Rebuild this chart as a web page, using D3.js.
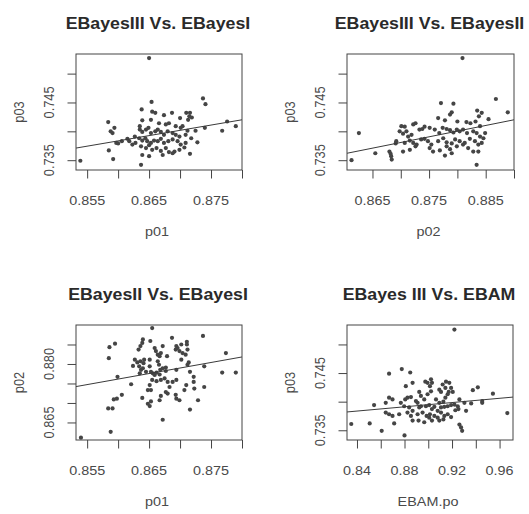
<!DOCTYPE html>
<html>
<head>
<meta charset="utf-8">
<script src="https://cdnjs.cloudflare.com/ajax/libs/d3/7.8.5/d3.min.js"></script>
<style>
    body { margin: 0; background: #fff; }
    svg { display: block; }
    text { font-family: "Liberation Sans", Arial, sans-serif; }
</style>
</head>
<body>
<svg id="chart"></svg>
<script>
// values, one [x, y] pair per gene
var iiiVsI = [[0.8650,0.7527],[0.8539,0.7349],[0.8637,0.7342],[0.8584,0.7416],[0.8585,0.7367],[0.8592,0.7352],[0.8591,0.7397],[0.8594,0.7406],[0.8597,0.7380],[0.8600,0.7379],[0.8606,0.7383],[0.8588,0.7400],[0.8618,0.7383],[0.8623,0.7377],[0.8628,0.7380],[0.8654,0.7451],[0.8638,0.7438],[0.8655,0.7434],[0.8660,0.7432],[0.8674,0.7428],[0.8687,0.7432],[0.8700,0.7423],[0.8710,0.7432],[0.8716,0.7432],[0.8715,0.7426],[0.8713,0.7420],[0.8719,0.7424],[0.8737,0.7457],[0.8741,0.7447],[0.8768,0.7401],[0.8776,0.7417],[0.8790,0.7409],[0.8740,0.7406],[0.8728,0.7381],[0.8716,0.7361],[0.8639,0.7419],[0.8653,0.7420],[0.8666,0.7414],[0.8677,0.7412],[0.8682,0.7414],[0.8693,0.7409],[0.8701,0.7406],[0.8704,0.7409],[0.8712,0.7401],[0.8725,0.7401],[0.8635,0.7403],[0.8639,0.7399],[0.8645,0.7403],[0.8649,0.7406],[0.8653,0.7397],[0.8660,0.7400],[0.8664,0.7403],[0.8669,0.7399],[0.8674,0.7394],[0.8680,0.7400],[0.8688,0.7397],[0.8693,0.7394],[0.8699,0.7391],[0.8709,0.7394],[0.8718,0.7388],[0.8634,0.7388],[0.8639,0.7384],[0.8644,0.7388],[0.8647,0.7383],[0.8653,0.7380],[0.8658,0.7384],[0.8664,0.7383],[0.8669,0.7387],[0.8674,0.7380],[0.8681,0.7383],[0.8688,0.7386],[0.8696,0.7383],[0.8701,0.7377],[0.8709,0.7380],[0.8637,0.7374],[0.8645,0.7371],[0.8650,0.7376],[0.8655,0.7368],[0.8662,0.7371],[0.8669,0.7366],[0.8677,0.7371],[0.8682,0.7364],[0.8691,0.7365],[0.8699,0.7368],[0.8707,0.7372],[0.8639,0.7359],[0.8650,0.7357],[0.8672,0.7359],[0.8688,0.7362],[0.8627,0.7391],[0.8615,0.7387],[0.8635,0.7409]];

var iiiVsII = [[0.8771,0.7449],[0.8793,0.7448],[0.8868,0.7456],[0.8889,0.7433],[0.8835,0.7436],[0.8838,0.7426],[0.8843,0.7432],[0.8855,0.7421],[0.8766,0.7423],[0.8778,0.7419],[0.8787,0.7429],[0.8790,0.7433],[0.8800,0.7417],[0.8816,0.7416],[0.8823,0.7414],[0.8832,0.7417],[0.8840,0.7409],[0.8701,0.7409],[0.8707,0.7408],[0.8710,0.7400],[0.8722,0.7412],[0.8726,0.7414],[0.8733,0.7403],[0.8738,0.7404],[0.8742,0.7408],[0.8698,0.7400],[0.8704,0.7396],[0.8713,0.7391],[0.8719,0.7394],[0.8751,0.7406],[0.8760,0.7403],[0.8768,0.7397],[0.8774,0.7406],[0.8781,0.7404],[0.8787,0.7402],[0.8793,0.7398],[0.8799,0.7403],[0.8804,0.7400],[0.8810,0.7403],[0.8817,0.7397],[0.8828,0.7400],[0.8834,0.7397],[0.8840,0.7391],[0.8846,0.7388],[0.8692,0.7383],[0.8707,0.7380],[0.8716,0.7384],[0.8722,0.7380],[0.8728,0.7377],[0.8736,0.7386],[0.8742,0.7387],[0.8748,0.7383],[0.8754,0.7377],[0.8766,0.7383],[0.8775,0.7388],[0.8781,0.7381],[0.8790,0.7379],[0.8796,0.7386],[0.8804,0.7383],[0.8813,0.7380],[0.8822,0.7387],[0.8831,0.7383],[0.8837,0.7377],[0.8843,0.7380],[0.8849,0.7397],[0.8704,0.7365],[0.8716,0.7368],[0.8726,0.7374],[0.8751,0.7371],[0.8757,0.7365],[0.8769,0.7367],[0.8781,0.7374],[0.8787,0.7369],[0.8799,0.7374],[0.8810,0.7377],[0.8819,0.7371],[0.8828,0.7365],[0.8680,0.7365],[0.8683,0.7357],[0.8684,0.7351],[0.8778,0.7358],[0.8790,0.7362],[0.8837,0.7365],[0.8834,0.7342],[0.8809,0.7527],[0.8613,0.7350],[0.8626,0.7397],[0.8655,0.7362],[0.8691,0.7379],[0.8682,0.7361]];

var iiVsI = [[0.8540,0.8611],[0.8588,0.8626],[0.8584,0.8686],[0.8591,0.8686],[0.8585,0.8815],[0.8586,0.8843],[0.8595,0.8852],[0.8599,0.8767],[0.8593,0.8709],[0.8598,0.8711],[0.8606,0.8721],[0.8621,0.8748],[0.8624,0.8795],[0.8627,0.8811],[0.8631,0.8804],[0.8636,0.8807],[0.8634,0.8794],[0.8637,0.8785],[0.8635,0.8776],[0.8640,0.8789],[0.8645,0.8780],[0.8642,0.8811],[0.8641,0.8802],[0.8633,0.8837],[0.8636,0.8846],[0.8639,0.8854],[0.8640,0.8863],[0.8652,0.8859],[0.8655,0.8892],[0.8651,0.8811],[0.8651,0.8794],[0.8653,0.8780],[0.8656,0.8776],[0.8659,0.8772],[0.8662,0.8778],[0.8667,0.8773],[0.8668,0.8785],[0.8672,0.8789],[0.8677,0.8791],[0.8677,0.8782],[0.8659,0.8841],[0.8661,0.8833],[0.8664,0.8824],[0.8667,0.8820],[0.8672,0.8846],[0.8669,0.8828],[0.8664,0.8807],[0.8666,0.8798],[0.8679,0.8820],[0.8687,0.8867],[0.8694,0.8846],[0.8693,0.8837],[0.8696,0.8841],[0.8699,0.8833],[0.8702,0.8850],[0.8704,0.8828],[0.8711,0.8857],[0.8711,0.8850],[0.8712,0.8837],[0.8709,0.8824],[0.8694,0.8785],[0.8702,0.8811],[0.8712,0.8798],[0.8714,0.8804],[0.8716,0.8780],[0.8722,0.8767],[0.8722,0.8754],[0.8723,0.8737],[0.8710,0.8746],[0.8707,0.8733],[0.8655,0.8759],[0.8648,0.8733],[0.8653,0.8733],[0.8651,0.8746],[0.8662,0.8756],[0.8669,0.8759],[0.8675,0.8763],[0.8680,0.8754],[0.8683,0.8741],[0.8688,0.8754],[0.8694,0.8759],[0.8639,0.8713],[0.8648,0.8698],[0.8651,0.8692],[0.8653,0.8704],[0.8667,0.8707],[0.8669,0.8718],[0.8677,0.8728],[0.8680,0.8724],[0.8693,0.8721],[0.8694,0.8711],[0.8699,0.8707],[0.8672,0.8657],[0.8716,0.8683],[0.8729,0.8707],[0.8737,0.8872],[0.8739,0.8794],[0.8739,0.8741],[0.8774,0.8828],[0.8768,0.8778],[0.8790,0.8778]];

var iiiVsEbam = [[0.9220,0.7526],[0.8352,0.7361],[0.8507,0.7362],[0.8608,0.7349],[0.8800,0.7341],[0.8713,0.7362],[0.8670,0.7449],[0.8777,0.7457],[0.8848,0.7451],[0.8811,0.7427],[0.8868,0.7433],[0.8544,0.7394],[0.8642,0.7398],[0.8670,0.7407],[0.8699,0.7404],[0.8642,0.7381],[0.8670,0.7378],[0.8699,0.7375],[0.8755,0.7378],[0.8769,0.7398],[0.8797,0.7392],[0.8806,0.7404],[0.8825,0.7407],[0.8854,0.7408],[0.8839,0.7390],[0.8868,0.7384],[0.8825,0.7381],[0.8854,0.7375],[0.8868,0.7367],[0.8910,0.7378],[0.8924,0.7390],[0.8938,0.7392],[0.8910,0.7398],[0.8896,0.7401],[0.8924,0.7417],[0.8938,0.7410],[0.8966,0.7404],[0.8994,0.7413],[0.9023,0.7418],[0.8994,0.7433],[0.8975,0.7435],[0.9023,0.7439],[0.9031,0.7433],[0.9014,0.7427],[0.9065,0.7404],[0.9093,0.7398],[0.9127,0.7400],[0.9144,0.7407],[0.9163,0.7413],[0.9172,0.7417],[0.9144,0.7424],[0.9121,0.7430],[0.9093,0.7421],[0.9107,0.7417],[0.9149,0.7435],[0.9177,0.7433],[0.9192,0.7424],[0.9206,0.7417],[0.8980,0.7392],[0.9008,0.7394],[0.9031,0.7387],[0.9051,0.7391],[0.9079,0.7384],[0.9107,0.7390],[0.9135,0.7391],[0.9163,0.7392],[0.9192,0.7394],[0.9220,0.7395],[0.8952,0.7381],[0.8986,0.7375],[0.9014,0.7378],[0.9051,0.7375],[0.9079,0.7372],[0.9107,0.7381],[0.9135,0.7375],[0.9163,0.7378],[0.9192,0.7373],[0.9228,0.7385],[0.9248,0.7392],[0.9262,0.7404],[0.9304,0.7398],[0.9361,0.7397],[0.9375,0.7420],[0.9417,0.7425],[0.9454,0.7401],[0.9454,0.7398],[0.9544,0.7414],[0.9665,0.7380],[0.8918,0.7367],[0.8966,0.7364],[0.9008,0.7372],[0.9031,0.7367],[0.9093,0.7367],[0.9127,0.7369],[0.9262,0.7360],[0.9276,0.7355],[0.9285,0.7349],[0.9254,0.7387],[0.9318,0.7384]];

// fitted lines, [[x0, y0], [x1, y1]] at the edges of each plot
var fitIIIvsI = [[0.8532, 0.7371], [0.8800, 0.7420]];
var fitIIIvsII = [[0.8605, 0.7362], [0.8900, 0.7420]];
var fitIIvsI = [[0.8532, 0.8742], [0.8800, 0.8818]];
var fitIIIvsEbam = [[0.8316, 0.7382], [0.9713, 0.7408]];

var titles = ["EBayesIII Vs. EBayesI", "EBayesIII Vs. EBayesII", "EBayesII Vs. EBayesI", "EBayes III Vs. EBAM"];
var xNames = ["p01", "p02", "p01", "EBAM.po"];
var yNames = ["p03", "p03", "p02", "p03"];

// axis limits
var p01Lim = [0.8532, 0.8800];
var p02Lim = [0.8605, 0.8900];
var p03Lim = [0.7333, 0.7534];
var ebamLim = [0.8316, 0.9713];

// ticks and their labels ("" = tick with no label)
var p01Ticks = [0.855, 0.860, 0.865, 0.870, 0.875, 0.880];
var p01Labels = ["0.855", "", "0.865", "", "0.875", ""];
var p02xTicks = [0.865, 0.870, 0.875, 0.880, 0.885, 0.890];
var p02xLabels = ["0.865", "", "0.875", "", "0.885", ""];
var p02yTicks = [0.865, 0.870, 0.875, 0.880, 0.885];
var p02yLabels = ["0.865", "", "", "0.880", ""];
var p03Ticks = [0.735, 0.740, 0.745, 0.750];
var p03Labels = ["0.735", "", "0.745", ""];
var ebamTicks = [0.84, 0.86, 0.88, 0.90, 0.92, 0.94, 0.96];
var ebamLabels = ["0.84", "", "0.88", "", "0.92", "", "0.96"];

var width = 529, height = 514;
var stretch = 1.125;   // the picture was squashed a bit, text comes out wide

var panels = [
    {data: iiiVsI, fit: fitIIIvsI, xDom: p01Lim, yDom: p03Lim, xt: p01Ticks, xl: p01Labels, yt: p03Ticks, yl: p03Labels, box: [76, 242, 54, 170]},
    {data: iiiVsII, fit: fitIIIvsII, xDom: p02Lim, yDom: p03Lim, xt: p02xTicks, xl: p02xLabels, yt: p03Ticks, yl: p03Labels, box: [347, 514, 54, 170]},
    {data: iiVsI, fit: fitIIvsI, xDom: p01Lim, yDom: p02Lim, xt: p01Ticks, xl: p01Labels, yt: p02yTicks, yl: p02yLabels, box: [76, 242, 325, 440]},
    {data: iiiVsEbam, fit: fitIIIvsEbam, xDom: ebamLim, yDom: p03Lim, xt: ebamTicks, xl: ebamLabels, yt: p03Ticks, yl: p03Labels, box: [347, 513, 325, 440]}
];

var svg = d3.select("#chart")
    .attr("width", width)
    .attr("height", height);

svg.append("rect")
    .attr("width", width)
    .attr("height", height)
    .attr("fill", "#fff");

function addText(g, x, y, str, size, weight, color, vertical) {
    let tf = "translate(" + x + "," + y + ") scale(" + stretch + ",1)";
    if (vertical) tf += " rotate(-90)";
    return g.append("text")
        .attr("transform", tf)
        .attr("text-anchor", "middle")
        .style("font-size", size + "px")
        .style("font-weight", weight)
        .style("fill", color)
        .text(str);
}

panels.forEach((p, i) => {
    let [x0, x1, y0, y1] = p.box;
    let cx = (x0 + x1) / 2;

    let x = d3.scaleLinear().domain(p.xDom).range([x0, x1]);
    let y = d3.scaleLinear().domain(p.yDom).range([y1, y0]);

    let g = svg.append("g").attr("class", "panel");

    // axes, R style: outward ticks, labels only where they fit
    let xAxis = d3.axisBottom(x)
        .tickValues(p.xt)
        .tickSize(8.5)
        .tickFormat(d => "");
    g.append("g")
        .attr("class", "x axis")
        .attr("transform", "translate(0," + y1 + ")")
        .call(xAxis)
        .call(a => a.select(".domain").remove())
        .selectAll("line").attr("stroke", "#444");

    let yAxis = d3.axisLeft(y)
        .tickValues(p.yt)
        .tickSize(8.5)
        .tickFormat(d => "");
    g.append("g")
        .attr("class", "y axis")
        .attr("transform", "translate(" + x0 + ",0)")
        .call(yAxis)
        .call(a => a.select(".domain").remove())
        .selectAll("line").attr("stroke", "#444");

    p.xt.forEach((t, k) => {
        if (p.xl[k]) addText(g, x(t), y1 + 35, p.xl[k], 12.8, "normal", "#4a4a4a", false);
    });
    p.yt.forEach((t, k) => {
        if (p.yl[k]) addText(g, x0 - 22, y(t), p.yl[k], 12.8, "normal", "#4a4a4a", true);
    });

    // points
    g.selectAll("circle")
        .data(p.data)
        .enter().append("circle")
        .attr("cx", d => x(d[0]))
        .attr("cy", d => y(d[1]))
        .attr("r", 2.1)
        .attr("fill", "#454545");

    // fitted line
    g.append("line")
        .attr("x1", x(p.fit[0][0]))
        .attr("y1", y(p.fit[0][1]))
        .attr("x2", x(p.fit[1][0]))
        .attr("y2", y(p.fit[1][1]))
        .attr("stroke", "#3a3a3a")
        .attr("stroke-width", 1);

    // box
    g.append("rect")
        .attr("x", x0)
        .attr("y", y0)
        .attr("width", x1 - x0)
        .attr("height", y1 - y0)
        .attr("fill", "none")
        .attr("stroke", "#444")
        .attr("stroke-width", 1);

    addText(g, cx - 1, y0 - 25, titles[i], 15.8, "bold", "#2a2a2a", false);
    addText(g, cx - 2, y1 + 65.5, xNames[i], 12.8, "normal", "#4a4a4a", false);
    addText(g, x0 - 52, (y0 + y1) / 2, yNames[i], 12.8, "normal", "#4a4a4a", true);
});
</script>
</body>
</html>
